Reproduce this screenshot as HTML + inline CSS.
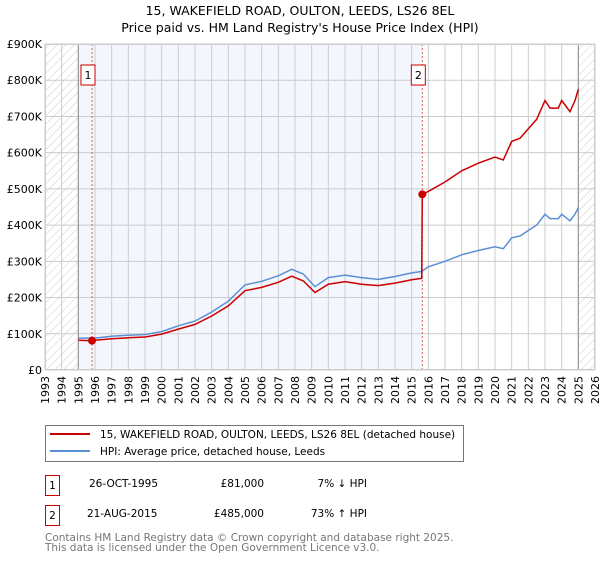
<!DOCTYPE html>
<html><head><meta charset="utf-8"><style>
body{margin:0;background:#fff;font-family:"DejaVu Sans","Liberation Sans",sans-serif;}
svg text{font-family:"DejaVu Sans","Liberation Sans",sans-serif;}
</style></head><body>
<svg id="chart" width="600" height="560" xmlns="http://www.w3.org/2000/svg">
<defs><pattern id="hatch" width="6" height="6" patternUnits="userSpaceOnUse" patternTransform="rotate(45)"><line x1="0" y1="0" x2="0" y2="6" stroke="#ccc" stroke-width="1"/></pattern></defs>
<text x="300" y="15" text-anchor="middle" font-size="12.5">15, WAKEFIELD ROAD, OULTON, LEEDS, LS26 8EL</text>
<text x="300" y="32" text-anchor="middle" font-size="12.5">Price paid vs. HM Land Registry's House Price Index (HPI)</text>
<g id="plot"></g>
<g>
<rect x="45.5" y="425.5" width="418" height="36" fill="#fff" stroke="#777"/>
<line x1="50" y1="434" x2="90" y2="434" stroke="#cc0000" stroke-width="2"/>
<text x="100" y="438" font-size="10.5">15, WAKEFIELD ROAD, OULTON, LEEDS, LS26 8EL (detached house)</text>
<line x1="50" y1="451" x2="90" y2="451" stroke="#5b8fd4" stroke-width="2"/>
<text x="100" y="455" font-size="10.5">HPI: Average price, detached house, Leeds</text>
</g>
<g font-size="10.5">
<rect x="45.5" y="475.5" width="14" height="20" fill="#fff" stroke="#cc0000"/>
<text x="52.5" y="489" text-anchor="middle">1</text>
<text x="89" y="487">26-OCT-1995</text>
<text x="264" y="487" text-anchor="end">£81,000</text>
<text x="367" y="487" text-anchor="end">7% ↓ HPI</text>
<rect x="45.5" y="505.5" width="14" height="20" fill="#fff" stroke="#cc0000"/>
<text x="52.5" y="519" text-anchor="middle">2</text>
<text x="87" y="517">21-AUG-2015</text>
<text x="264" y="517" text-anchor="end">£485,000</text>
<text x="367" y="517" text-anchor="end">73% ↑ HPI</text>
</g>
<g font-size="10.5" fill="#777">
<text x="45" y="541">Contains HM Land Registry data © Crown copyright and database right 2025.</text>
<text x="45" y="551">This data is licensed under the Open Government Licence v3.0.</text>
</g>
</svg>
<script>
const hpiYears=[1995,1996,1997,1998,1999,2000,2001,2002,2003,2004,2005,2006,2007,2007.8,2008.5,2009.2,2010,2011,2012,2013,2014,2015,2015.6,2016,2017,2018,2019,2020,2020.5,2021,2021.5,2022,2022.5,2023,2023.3,2023.8,2024,2024.5,2024.8,2025];
const hpiValues=[88,88,93,96,98,106,122,135,160,190,235,245,260,278,265,230,255,262,255,250,258,268,272,285,300,318,330,340,335,365,370,385,400,430,418,418,430,412,430,448];
const redYears=[1995,1995.82,1996,1997,1998,1999,2000,2001,2002,2003,2004,2005,2006,2007,2007.8,2008.5,2009.2,2010,2011,2012,2013,2014,2015,2015.6,2015.64,2016,2017,2018,2019,2020,2020.5,2021,2021.5,2022,2022.5,2023,2023.3,2023.8,2024,2024.5,2024.8,2025];
const redValues=[82,81,82,86,89,91,99,113,126,149,177,219,228,242,259,246,214,237,244,237,233,240,249,253,485,493,519,550,571,588,580,631,640,666,692,744,723,723,744,713,744,775];
const saleYears=[1995.82,2015.64];
const salePrices=[81,485];
const yTicks=[0,100,200,300,400,500,600,700,800,900];
const yTickLabels=["£0","£100K","£200K","£300K","£400K","£500K","£600K","£700K","£800K","£900K"];
const xTicks=[1993,1994,1995,1996,1997,1998,1999,2000,2001,2002,2003,2004,2005,2006,2007,2008,2009,2010,2011,2012,2013,2014,2015,2016,2017,2018,2019,2020,2021,2022,2023,2024,2025,2026];

const L=45,R=595,T=44,B=370;
const X=y=>L+(y-1993)/33*(R-L);
const Y=v=>B-v/900*(B-T);
const g=document.getElementById('plot');
const NS='http://www.w3.org/2000/svg';
function mk(tag,attrs){const e=document.createElementNS(NS,tag);for(const k in attrs)e.setAttribute(k,attrs[k]);g.appendChild(e);return e;}

let e;
e=mk('rect',{x:X(1995),y:T,width:X(saleYears[1])-X(1995),height:B-T,fill:'#f3f6fd'});


e=mk('rect',{x:L,y:T,width:X(1995)-L,height:B-T,fill:'url(#hatch)'});


e=mk('rect',{x:X(2025),y:T,width:R-X(2025),height:B-T,fill:'url(#hatch)'});



xTicks.forEach((t,i)=>{
  e=mk('line',{x1:X(t),x2:X(t),y1:T,y2:B,stroke:'#ccc','stroke-width':1});
  
  
  e=mk('text',{x:0,y:0,'font-size':11,'text-anchor':'end',transform:`translate(${X(t)+4},${B+6}) rotate(-90)`});
  e.textContent=t;
  
  
});
yTicks.forEach((t,i)=>{
  e=mk('line',{x1:L,x2:R,y1:Y(t),y2:Y(t),stroke:'#ccc','stroke-width':1});
  
  
  e=mk('text',{x:L-3,y:Y(t)+4,'font-size':11,'text-anchor':'end'});
  e.textContent=yTickLabels[i];
  
  
});
[1995,2025].forEach(t=>{
  e=mk('line',{x1:X(t),x2:X(t),y1:T,y2:B,stroke:'#999','stroke-width':1.2});
  
  
});
saleYears.forEach((s,i)=>{
  e=mk('line',{x1:X(s),x2:X(s),y1:T,y2:B,stroke:'#e06060','stroke-width':1,'stroke-dasharray':'2,2'});
  
  
});
e=mk('path',{d:hpiYears.map((y,i)=>(i?'L':'M')+X(y).toFixed(1)+','+Y(hpiValues[i]).toFixed(1)).join(''),fill:'none',stroke:'#5b8fd4','stroke-width':1.5});


e=mk('path',{d:redYears.map((y,i)=>(i?'L':'M')+X(y).toFixed(1)+','+Y(redValues[i]).toFixed(1)).join(''),fill:'none',stroke:'#cc0000','stroke-width':1.5});


saleYears.forEach((s,i)=>{
  e=mk('circle',{cx:X(s),cy:Y(salePrices[i]),r:4,fill:'#cc0000'});
  
  
  e=mk('rect',{x:X(s)-11,y:65,width:14,height:20,fill:'#fff',stroke:'#cc0000'});
  
  
  e=mk('text',{x:X(s)-4,y:79,'font-size':11,'text-anchor':'middle'});
  e.textContent=String(i+1);
  
  
});
e=mk('rect',{x:L+0.5,y:T+0.5,width:R-L-1,height:B-T-1,fill:'none',stroke:'#ccc'});


</script>
</body></html>
